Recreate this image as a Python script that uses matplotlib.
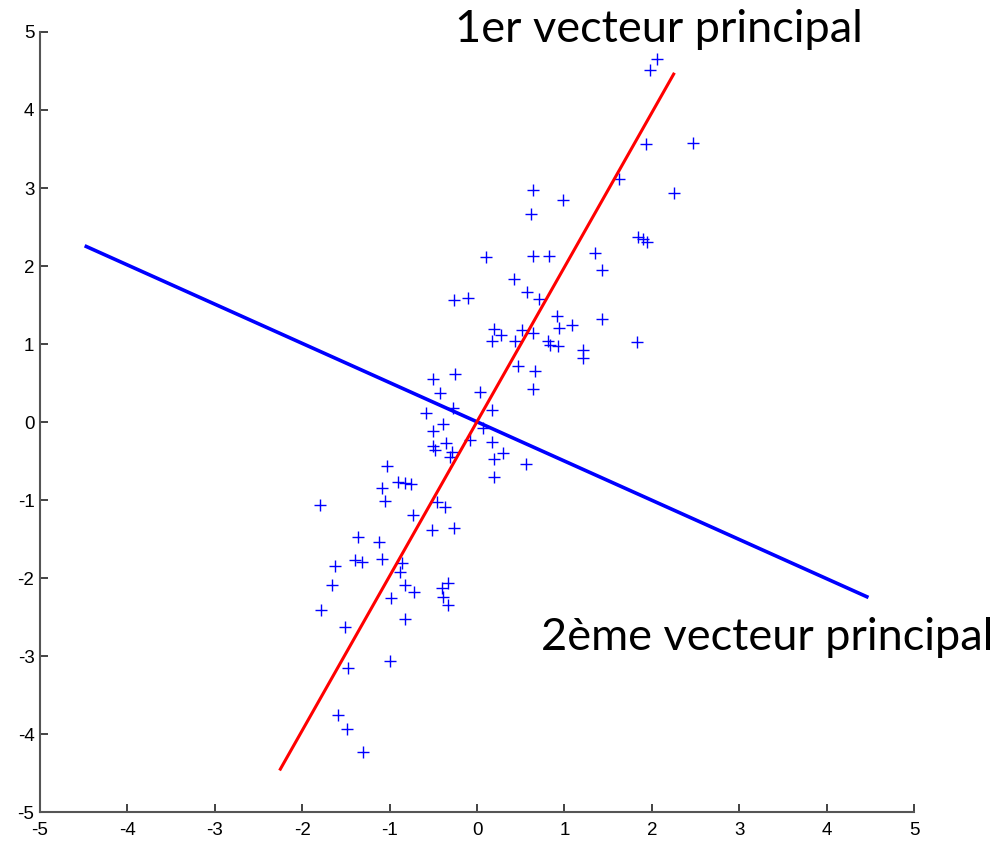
import matplotlib.pyplot as plt
import numpy as np

plt.rcParams['axes.unicode_minus'] = False

# Data points
x_val = [2.06, 1.98, 1.93, 2.47, 1.62, 2.25, 0.64, 0.98, 0.62, 1.84,
         1.90, 1.94, 0.10, 0.64, 0.82, 1.35, 1.43, 0.42, 0.57, 0.71,
         -0.26, -0.10, 0.91, 1.09, 0.94, 1.43, 0.19, 0.28, 0.17, 0.51,
         0.64, 0.44, 0.81, 0.84, 0.93, 1.21, 1.21, 1.83, 0.47, 0.66,
         -0.25, 0.64, 0.03, -0.50, -0.42, -0.58, -0.27, 0.17, -0.39, -0.50,
         0.07, -0.08, -0.35, -0.50, -0.48, -0.29, -0.31, 0.17, 0.30, 0.20,
         0.56, 0.20, -1.03, -0.90, -0.82, -0.75, -1.09, -1.05, -1.80, -0.46,
         -0.37, -0.73, -0.51, -0.26, -1.36, -1.12, -1.63, -1.40, -1.32, -1.09,
         -0.86, -0.88, -0.82, -0.72, -0.98, -1.66, -0.33, -0.40, -0.39, -0.33,
         -1.78, -0.82, -1.51, -1.48, -1.00, -1.59, -1.49, -1.31]
y_val = [4.66, 4.51, 3.56, 3.58, 3.11, 2.94, 2.98, 2.85, 2.67, 2.37,
         2.34, 2.31, 2.11, 2.13, 2.13, 2.17, 1.95, 1.83, 1.67, 1.58,
         1.56, 1.59, 1.36, 1.25, 1.20, 1.32, 1.19, 1.12, 1.04, 1.18,
         1.14, 1.04, 1.04, 0.99, 0.98, 0.92, 0.82, 1.02, 0.72, 0.65,
         0.62, 0.42, 0.38, 0.55, 0.37, 0.11, 0.18, 0.16, -0.02, -0.12,
         -0.08, -0.23, -0.27, -0.31, -0.36, -0.38, -0.45, -0.25, -0.40, -0.47,
         -0.54, -0.70, -0.57, -0.77, -0.78, -0.79, -0.85, -1.01, -1.07, -1.02,
         -1.09, -1.19, -1.39, -1.36, -1.47, -1.54, -1.84, -1.77, -1.79, -1.75,
         -1.81, -1.92, -2.09, -2.18, -2.26, -2.09, -2.06, -2.13, -2.24, -2.35,
         -2.41, -2.52, -2.63, -3.16, -3.07, -3.75, -3.94, -4.23]

# Principal axes endpoints
v1_x = [-2.25, 2.25]
v1_y = [-4.45, 4.46]
v2_x = [-4.47, 4.46]
v2_y = [2.25, -2.24]

ticks = np.arange(-5, 6)

fig = plt.figure(figsize=(10.02, 8.42), dpi=100)
ax = fig.add_axes([0.0399, 0.0356, 0.8723, 0.9264])

ax.plot(x_val, y_val, '+', color='#0000ff', markersize=9, mew=1.0, zorder=2)
ax.plot(v2_x, v2_y, color='#0000ff', lw=2.6, zorder=3)
ax.plot(v1_x, v1_y, color='#ff0000', lw=2.2, zorder=4)

ax.set_xlim(-5, 5)
ax.set_ylim(-5, 5)
ax.set_xticks(ticks)
ax.set_yticks(ticks)

for s in ['top', 'right']:
    ax.spines[s].set_visible(False)
for s in ['left', 'bottom']:
    ax.spines[s].set_color('#555555')
    ax.spines[s].set_linewidth(1.5)

ax.tick_params(direction='in', length=6, width=1.2, color='#222222',
               labelsize=13.5, labelcolor='black')
ax.tick_params(axis='x', pad=7)
ax.tick_params(axis='y', pad=4)
for lbl in ax.get_xticklabels() + ax.get_yticklabels():
    lbl.set_family('Liberation Sans')

fig.text(0.454, 0.950, "1er vecteur principal", fontsize=32.5,
         family='Lato', va='baseline', ha='left')
fig.text(0.540, 0.228, "2ème vecteur principal", fontsize=32.5,
         family='Lato', va='baseline', ha='left')

plt.savefig('out.png', dpi=100)
